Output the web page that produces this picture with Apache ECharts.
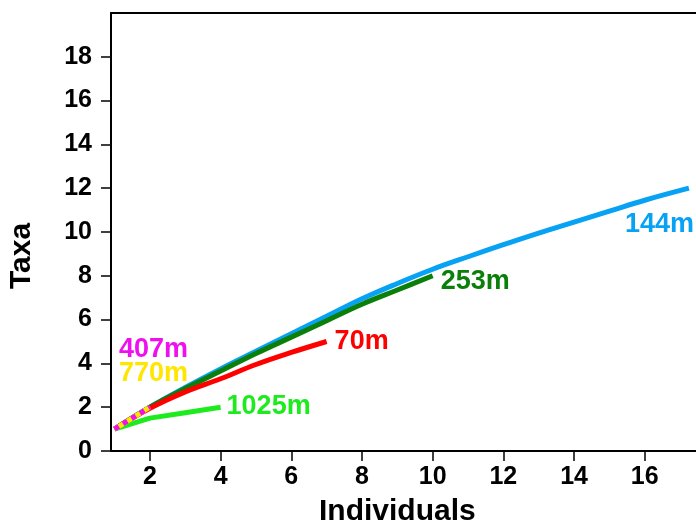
<!DOCTYPE html>
<html>
<head>
<meta charset="utf-8">
<script src="https://cdn.jsdelivr.net/npm/echarts@6/dist/echarts.min.js"></script>
<style>
  html, body { margin: 0; padding: 0; background: #fff; }
  #chart { width: 696px; height: 529px; }
</style>
</head>
<body>
<div id="chart"></div>
<script>
// Rarefaction curves: expected taxa versus number of individuals sampled, by depth
const individuals = [1, 2, 3, 4, 5, 6, 7, 8, 9, 10, 11, 12, 13, 14, 15, 16, 17.25];
const taxa144m  = [1, 2, 2.9, 3.75, 4.55, 5.35, 6.15, 6.95, 7.65, 8.3, 8.87, 9.42, 9.95, 10.45, 10.95, 11.45, 12];
const taxa253m  = [1, 2, 2.85, 3.65, 4.45, 5.2, 5.95, 6.7, 7.35, 8];
const taxa70m   = [1, 1.95, 2.7, 3.3, 3.95, 4.5, 5];
const taxa1025m = [1, 1.5, 1.75, 2];
const taxa407m  = [1, 2];
const taxa770m  = [1, 2];

const xTicks = [2, 4, 6, 8, 10, 12, 14, 16];
const yTicks = [0, 2, 4, 6, 8, 10, 12, 14, 16, 18];

const FONT = '"Liberation Sans", Arial, sans-serif';

function pairs(ys) {
  return ys.map((y, i) => [individuals[i], y]);
}

function curve(name, ys, color, label, offset, extra) {
  return Object.assign({
    name: name,
    type: 'line',
    data: pairs(ys),
    symbol: 'none',
    smooth: 0.4,
    lineStyle: { color: color, width: 5, cap: 'butt' },
    endLabel: {
      show: !!label,
      formatter: label || '',
      color: color,
      fontFamily: FONT,
      fontWeight: 'bold',
      fontSize: 27,
      distance: 0,
      offset: offset || [0, 0]
    },
    emphasis: { disabled: true },
    animation: false
  }, extra || {});
}

const chart = echarts.init(document.getElementById('chart'), null, { renderer: 'canvas' });

chart.setOption({
  backgroundColor: '#ffffff',
  animation: false,
  grid: { left: 111, top: 13, right: 0, bottom: 78, containLabel: false },
  xAxis: [{
    type: 'value',
    min: 0.9,
    max: 17.45,
    splitLine: { show: false },
    axisLine: { show: true, onZero: false, lineStyle: { color: '#000', width: 2 } },
    axisTick: { show: true, inside: false, length: 10, customValues: xTicks, lineStyle: { color: '#000', width: 1.5 } },
    axisLabel: {
      customValues: xTicks, margin: 14,
      color: '#000', fontFamily: FONT, fontWeight: 'bold', fontSize: 25
    }
  }, {
    type: 'value',
    position: 'top',
    min: 0.9,
    max: 17.45,
    splitLine: { show: false },
    axisLine: { show: true, onZero: false, lineStyle: { color: '#000', width: 2 } },
    axisTick: { show: false },
    axisLabel: { show: false }
  }],
  yAxis: {
    type: 'value',
    min: 0,
    max: 20,
    splitLine: { show: false },
    axisLine: { show: true, onZero: false, lineStyle: { color: '#000', width: 2 } },
    axisTick: { show: true, inside: false, length: 10, customValues: yTicks, lineStyle: { color: '#000', width: 1.5 } },
    axisLabel: {
      customValues: yTicks, margin: 19,
      color: '#000', fontFamily: FONT, fontWeight: 'bold', fontSize: 25
    }
  },
  graphic: [{
    type: 'text',
    left: 319, top: 497,
    style: { text: 'Individuals', fill: '#000', font: 'bold 30px ' + FONT }
  }, {
    type: 'text',
    x: 7, y: 289,
    rotation: Math.PI / 2,
    style: { text: 'Taxa', fill: '#000', font: 'bold 30px ' + FONT }
  }],
  series: [
    curve('144m', taxa144m, '#08A2F4', '144m', [-64, 36]),
    curve('253m', taxa253m, '#0A7F0A', '253m', [8, 6]),
    curve('70m', taxa70m, '#FF0000', '70m', [8, 0]),
    curve('1025m', taxa1025m, '#1EEB1E', '1025m', [6, -1], { smooth: false }),
    curve('770m', taxa770m, '#FFE600', '770m', [-31, -34], { smooth: false }),
    curve('407m', taxa407m, '#EE10EE', '407m', [-31, -58], {
      smooth: false,
      lineStyle: { color: '#EE10EE', width: 5, type: [5, 5], cap: 'butt' }
    })
  ]
});
</script>
</body>
</html>
